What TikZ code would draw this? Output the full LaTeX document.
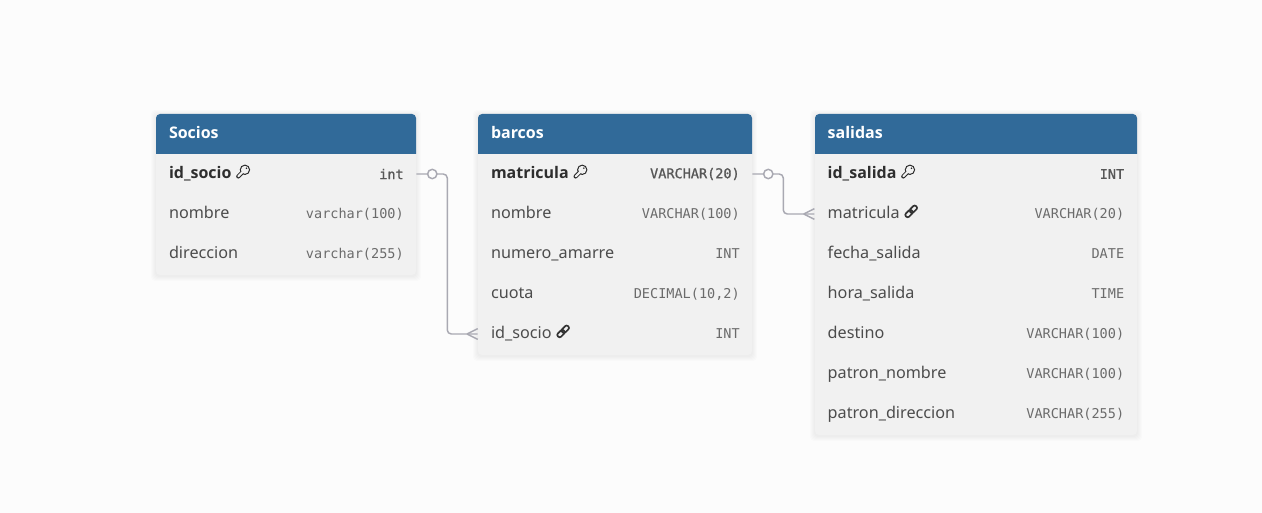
\documentclass[tikz,border=0pt]{standalone}
\usepackage{fontspec}
\setmainfont{Noto Sans}[BoldFont={Open Sans Bold}]
\setmonofont{DejaVu Sans Mono}
\newfontfamily\pkmono{DejaVu Sans Mono}[FakeBold=1]
\usetikzlibrary{positioning}
\definecolor{pagegray}{HTML}{FCFCFC}
\definecolor{bodygray}{HTML}{F1F1F1}
\definecolor{headblue}{HTML}{316A99}
\definecolor{linegray}{HTML}{A9A9B2}
\newcommand{\keyicon}{\hspace{3.9pt}\tikz[x=1pt, y=1pt, baseline={(0,.2)}]{
	\useasboundingbox (0,0) rectangle (10,10);
	\draw[black!85, line width=3.1pt, line cap=round] (1.2,1.2) -- (5,5);
	\fill[black!85] (6.2,6.2) circle (3.9pt);
	\draw[bodygray, line width=1.6pt, line cap=round] (1.2,1.2) -- (5,5);
	\fill[bodygray] (6.2,6.2) circle (3pt);
	\fill[black!85] (7.4,7.4) circle (.65pt);
}}
\newcommand{\linkicon}{\hspace{3.6pt}\tikz[x=1pt, y=1pt, baseline={(0,.2)}]{
	\useasboundingbox (0,0) rectangle (10,10);
	\draw[black!80, line width=1.25pt, rounded corners=1.5pt, rotate around={45:(5,5)}] (-.4,3.3) rectangle (5.8,6.7) (4.2,3.3) rectangle (10.4,6.7);
}}
% soft edge under a table
\newcommand{\tableshadow}[4]{
	\foreach \s in {1,2,3,4,5}
		\fill[black, opacity=.01, rounded corners=3pt] (#1-\s,#2-\s+1) rectangle (#3+\s,#4+\s+1);
}
\newcommand{\tableback}[4]{
	\fill[bodygray, rounded corners=3pt] (#1,#2) rectangle (#3,#4);
	\fill[headblue] (#1,#2+40) [rounded corners=3pt] -- (#1,#2) -- (#3,#2) [sharp corners] -- (#3,#2+40) -- cycle;
}
\begin{document}
\begin{tikzpicture}[x=.75pt, y=-.75pt, node distance=30pt,
		head/.style={minimum width=#1*.75pt, minimum height=30pt, text width=#1*.75pt-19.5pt, inner xsep=9.75pt, inner ysep=0pt, align=left, text=white, font=\fontsize{12pt}{12pt}\selectfont\bfseries, text height=9.8pt, text depth=3pt},
		row/.style={minimum width=#1*.75pt, minimum height=30pt, text width=#1*.75pt-19.5pt, inner xsep=9.75pt, inner ysep=0pt, align=left, text=black!70, font=\fontsize{12.15pt}{12pt}\selectfont, text height=9.4pt, text depth=3pt},
		pk/.style={text=black!82, font=\fontsize{12pt}{12pt}\selectfont\bfseries},
		dtype/.style={inner sep=0pt, text=black!58, font=\fontsize{10.15pt}{10pt}\selectfont\ttfamily},
		pktype/.style={dtype, text=black!66, font=\fontsize{10.15pt}{10pt}\selectfont\pkmono},
		rel/.style={draw=linegray, line width=1.1pt},
		zero/.style={circle, draw=linegray, line width=1.1pt, fill=pagegray, minimum size=7pt, inner sep=0pt}]

	\fill[pagegray] (0,0) rectangle (1262,513);

	\tableshadow{156}{114}{416}{275}
	\tableshadow{478}{114}{752}{355}
	\tableshadow{815}{114}{1137}{435}
	\tableback{156}{114}{416}{275}
	\tableback{478}{114}{752}{355}
	\tableback{815}{114}{1137}{435}

	% Socios
	\node(socios)[head=260] at (286,134) {Socios};
	\node(socios-1)[row=260, pk, below of=socios] {id\_socio\keyicon};
	\node(socios-2)[row=260, below of=socios-1] {nombre};
	\node(socios-3)[row=260, below of=socios-2] {direccion};
	\node(socios-1-type)[pktype, left=9.2pt of socios-1.east] {int};
	\node(socios-2-type)[dtype, left=9.2pt of socios-2.east] {varchar(100)};
	\node(socios-3-type)[dtype, left=9.2pt of socios-3.east] {varchar(255)};

	% barcos
	\node(barcos)[head=274] at (615,134) {barcos};
	\node(barcos-1)[row=274, pk, below of=barcos] {matricula\keyicon};
	\node(barcos-2)[row=274, below of=barcos-1] {nombre};
	\node(barcos-3)[row=274, below of=barcos-2] {numero\_amarre};
	\node(barcos-4)[row=274, below of=barcos-3] {cuota};
	\node(barcos-5)[row=274, below of=barcos-4] {id\_socio\linkicon};
	\node(barcos-1-type)[pktype, left=9.2pt of barcos-1.east] {VARCHAR(20)};
	\node(barcos-2-type)[dtype, left=9.2pt of barcos-2.east] {VARCHAR(100)};
	\node(barcos-3-type)[dtype, left=9.2pt of barcos-3.east] {INT};
	\node(barcos-4-type)[dtype, left=9.2pt of barcos-4.east] {DECIMAL(10,2)};
	\node(barcos-5-type)[dtype, left=9.2pt of barcos-5.east] {INT};

	% salidas
	\node(salidas)[head=322] at (975.7,134) {salidas};
	\node(salidas-1)[row=322, pk, below of=salidas] {id\_salida\keyicon};
	\node(salidas-2)[row=322, below of=salidas-1] {matricula\linkicon};
	\node(salidas-3)[row=322, below of=salidas-2] {fecha\_salida};
	\node(salidas-4)[row=322, below of=salidas-3] {hora\_salida};
	\node(salidas-5)[row=322, below of=salidas-4] {destino};
	\node(salidas-6)[row=322, below of=salidas-5] {patron\_nombre};
	\node(salidas-7)[row=322, below of=salidas-6] {patron\_direccion};
	\node(salidas-1-type)[pktype, left=9.4pt of salidas-1.east] {INT};
	\node(salidas-2-type)[dtype, left=9.4pt of salidas-2.east] {VARCHAR(20)};
	\node(salidas-3-type)[dtype, left=9.4pt of salidas-3.east] {DATE};
	\node(salidas-4-type)[dtype, left=9.4pt of salidas-4.east] {TIME};
	\node(salidas-5-type)[dtype, left=9.4pt of salidas-5.east] {VARCHAR(100)};
	\node(salidas-6-type)[dtype, left=9.4pt of salidas-6.east] {VARCHAR(100)};
	\node(salidas-7-type)[dtype, left=9.4pt of salidas-7.east] {VARCHAR(255)};

	\draw[rel, rounded corners=3pt] (socios-1.east) -- ++(31,0) |- (barcos-5.west);
	\draw[rel, rounded corners=3pt] (barcos-1.east) -- ++(31,0) |- (salidas-2.west);

	\node(zero-1)[zero, right=12pt of socios-1.east, anchor=center] {};
	\node(zero-2)[zero, right=12pt of barcos-1.east, anchor=center] {};

	\coordinate[left=8pt of barcos-5.west] (foot-1);
	\coordinate[left=8pt of salidas-2.west] (foot-2);
	\draw[rel] (foot-1) -- ([yshift=-4pt]barcos-5.west);
	\draw[rel] (foot-1) -- ([yshift=4pt]barcos-5.west);
	\draw[rel] (foot-2) -- ([yshift=-4pt]salidas-2.west);
	\draw[rel] (foot-2) -- ([yshift=4pt]salidas-2.west);
\end{tikzpicture}
\end{document}
